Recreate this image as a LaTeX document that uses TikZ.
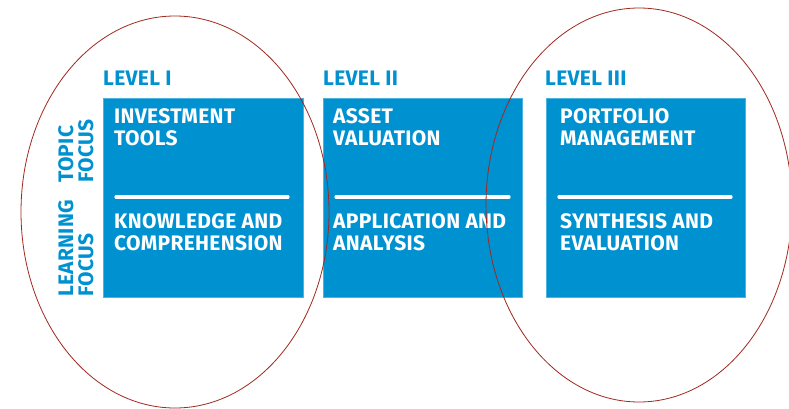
\documentclass[tikz,border=0pt]{standalone}
\usepackage{fontspec}
\setmainfont{Fira Sans}[LetterSpace=1.5]
\definecolor{cfablue}{RGB}{0,145,208}
\definecolor{ringred}{RGB}{160,40,30}
\begin{document}
\begin{tikzpicture}[x=1pt,y=-1pt,
  panel/.style={fill=cfablue,draw=cfablue!70!white,line width=0.6pt},
  divider/.style={white,line width=3.2pt,line cap=round},
  intext/.style={anchor=base west,inner sep=0pt,text=white,font=\fontsize{21}{21}\selectfont\bfseries},
  lvl/.style={anchor=base west,inner sep=0pt,text=cfablue,font=\fontsize{21}{21}\selectfont\bfseries},
  side/.style={anchor=base west,inner sep=0pt,rotate=90,text=cfablue,font=\fontsize{21}{21}\selectfont\bfseries},
  ring/.style={draw=ringred,line width=0.8pt}]
\useasboundingbox (0,0) rectangle (789,409);
\fill[white] (0,0) rectangle (789,409);

% three level panels
\path[panel] (103,98) rectangle (303,297) coordinate (p1);
\path[panel] (323,98) rectangle (522,297) coordinate (p2);
\path[panel] (546,98) rectangle (745,297) coordinate (p3);

% dividers between topic and learning focus
\draw[divider] (116,197) -- (288,197);
\draw[divider] (336,197) -- (509,197);
\draw[divider] (559,197) -- (731,197);

% level headings
\node[lvl] (l1) at (103,86) {LEVEL I};
\node[lvl] (l2) at (323,86) {LEVEL II};
\node[lvl] (l3) at (545,86) {LEVEL III};

% side captions
\node[side] (tf1) at (73,183) {TOPIC};
\node[side] (tf2) at (93,183) {FOCUS};
\node[side] (lf1) at (73,297) {LEARNING};
\node[side] (lf2) at (93,297) {FOCUS};

% panel texts
\node[intext] (a1) at (114,124) {INVESTMENT};
\node[intext] (a2) at (114,145) {TOOLS};
\node[intext] (a3) at (114,228) {KNOWLEDGE AND};
\node[intext] (a4) at (114,250) {COMPREHENSION};

\node[intext] (b1) at (333,124) {ASSET};
\node[intext] (b2) at (333,145) {VALUATION};
\node[intext] (b3) at (333,228) {APPLICATION AND};
\node[intext] (b4) at (333,250) {ANALYSIS};

\node[intext] (c1) at (560,124) {PORTFOLIO};
\node[intext] (c2) at (560,145) {MANAGEMENT};
\node[intext] (c3) at (560,228) {SYNTHESIS AND};
\node[intext] (c4) at (560,250) {EVALUATION};

% highlight rings
\draw[ring] (175,212) ellipse [x radius=154, y radius=196];
\draw[ring] (639,205) ellipse [x radius=153, y radius=197];
\end{tikzpicture}
\end{document}
